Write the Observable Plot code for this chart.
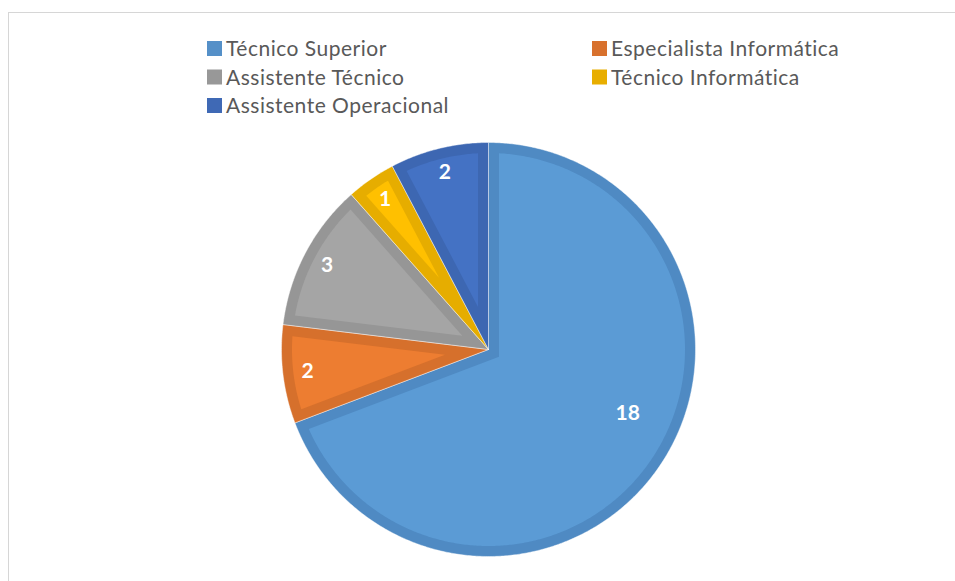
<!DOCTYPE html>
<html>
<head>
<meta charset="utf-8">
<script src="https://cdn.jsdelivr.net/npm/d3@7"></script>
<script src="https://cdn.jsdelivr.net/npm/@observablehq/plot@0.6"></script>
<style>
  html, body { margin: 0; padding: 0; background: #ffffff; }
  #root { position: relative; width: 955px; height: 581px; overflow: hidden; background: #ffffff; }
  #frame { position: absolute; left: 8px; top: 12px; right: 0; bottom: 0; border-top: 1px solid #d6d6d6; border-left: 1px solid #d6d6d6; }
  #legend, #chart { position: relative; }
  #legend svg, #chart svg { display: block; }
</style>
</head>
<body>
<div id="root">
  <div id="frame"></div>
  <div id="legend"></div>
  <div id="chart"></div>
</div>
<script>
// ---- data ----
const categories = ["Técnico Superior", "Especialista Informática", "Assistente Técnico", "Técnico Informática", "Assistente Operacional"];
const values = [18, 2, 3, 1, 2];
const fillColors = ["#5b9bd5", "#ed7d31", "#a5a5a5", "#ffc000", "#4472c4"];
const borderColors = ["#4f8ac3", "#d6702c", "#969696", "#e6ad00", "#3d67b2"];
const swatchColors = ["#5590c8", "#d8712d", "#989898", "#e8ae00", "#3f69b5"];

// ---- layout ----
const W = 955, H = 581, legendH = 125, chartH = H - legendH;
const cx = 488, cy = 349 - legendH, R = 207;
const border = 10.5 / R;

// ---- legend ----
const legendFont = "Lato, 'Open Sans', sans-serif";
const leg = d3.select("#legend").append("svg").attr("width", W).attr("height", legendH);
const colX = [207, 592], rowY = [41, 69.5, 98];
categories.forEach((c, i) => {
  const x = colX[i % 2], y = rowY[Math.floor(i / 2)];
  leg.append("rect").attr("x", x).attr("y", y).attr("width", 15).attr("height", 15).attr("fill", swatchColors[i]);
  leg.append("text").attr("x", x + 19).attr("y", y + 15)
    .attr("font-family", legendFont).attr("font-size", 21).attr("letter-spacing", "0.5px")
    .attr("fill", "#595959").text(c);
});

// ---- pie geometry from data ----
const arcs = d3.pie().sort(null).value(d => d)(values);
const pt = (a, r) => [r * Math.sin(a), r * Math.cos(a)];
const step = Math.PI / 360;
const rows = [];
const innerRows = [];
const labels = [];
arcs.forEach((a, i) => {
  const a0 = a.startAngle, a1 = a.endAngle, mid = (a0 + a1) / 2, half = (a1 - a0) / 2;
  // outer (border-coloured) wedge
  const outer = [[0, 0]];
  const n = Math.max(2, Math.ceil((a1 - a0) / step));
  for (let k = 0; k <= n; k++) outer.push(pt(a0 + (a1 - a0) * k / n, 1));
  outer.push([0, 0]);
  outer.forEach(([x, y]) => rows.push({key: "o" + i, x, y, fill: borderColors[i]}));
  // inset (fill-coloured) wedge
  const rin = 1 - border;
  const apex = pt(mid, border / Math.sin(half));
  const da = Math.asin(border / rin);
  const b0 = a0 + da, b1 = a1 - da;
  const inner = [apex];
  const m = Math.max(2, Math.ceil((b1 - b0) / step));
  for (let k = 0; k <= m; k++) inner.push(pt(b0 + (b1 - b0) * k / m, rin));
  inner.push(apex);
  inner.forEach(([x, y]) => innerRows.push({key: "i" + i, x, y, fill: fillColors[i]}));
  // label position
  let la = mid, lr = 0.88;
  if (a1 - a0 > Math.PI) { la = a0 + (a1 - a0) * 0.46; lr = 0.74; }
  const [lx, ly] = pt(la, lr);
  labels.push({x: lx, y: ly, text: String(values[i])});
});

const chart = Plot.plot({
  width: W,
  height: chartH,
  margin: 0,
  style: {background: "transparent", overflow: "visible"},
  x: {domain: [-cx / R, (W - cx) / R], axis: null},
  y: {domain: [-(chartH - cy) / R, cy / R], axis: null},
  color: {type: "identity"},
  marks: [
    Plot.line(rows, {x: "x", y: "y", z: "key", fill: "fill", stroke: "#ffffff", strokeOpacity: 0.55, strokeWidth: 0.8, curve: "linear"}),
    Plot.line(innerRows, {x: "x", y: "y", z: "key", fill: "fill", stroke: "none", curve: "linear"}),
    Plot.text(labels, {x: "x", y: "y", text: "text", fill: "#ffffff", fontSize: 21, fontWeight: "bold", fontFamily: "Lato, 'Open Sans', sans-serif"})
  ]
});
document.getElementById("chart").appendChild(chart);
</script>
</body>
</html>
